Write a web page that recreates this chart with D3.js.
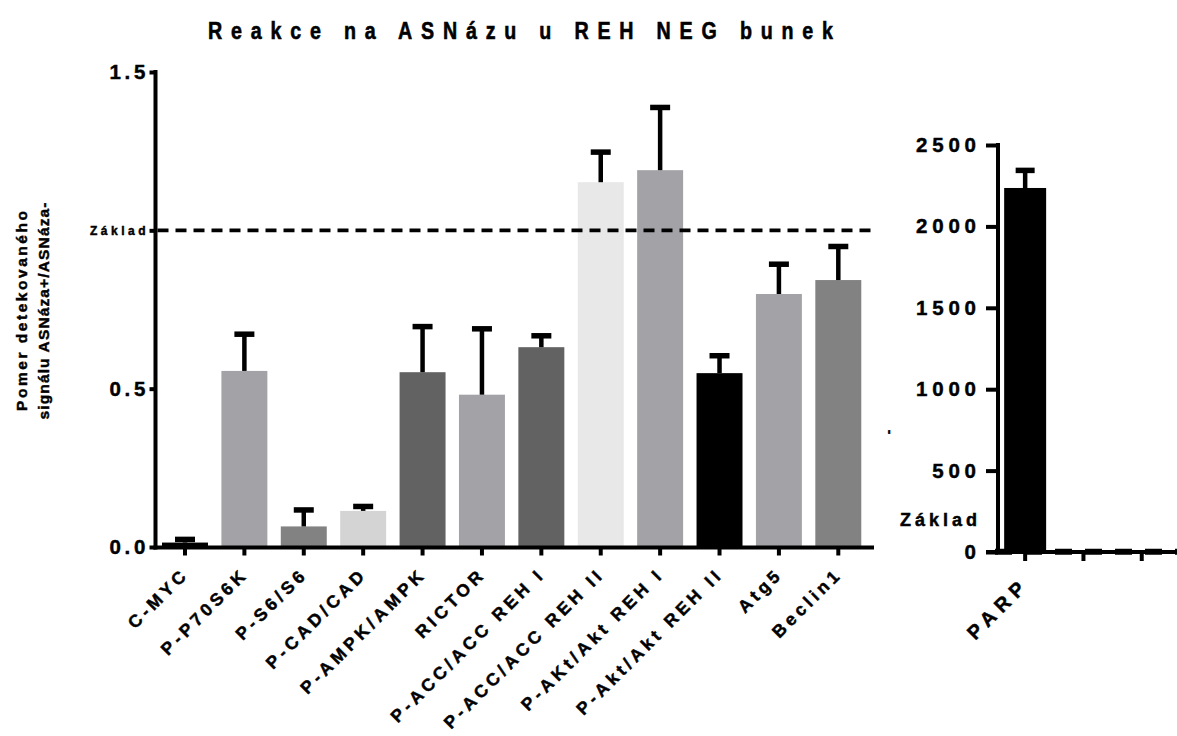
<!DOCTYPE html>
<html>
<head>
<meta charset="utf-8">
<script src="https://cdn.jsdelivr.net/npm/d3@7"></script>
<style>
  body { margin: 0; background: #fff; }
  text { font-family: "Liberation Sans", Arial, sans-serif; font-weight: bold; fill: #000;
         stroke: #000; stroke-width: 0.45px; }
</style>
</head>
<body>
<svg id="chart" width="1177" height="736"></svg>
<script>
// ---- data ----
const categories = ["C-MYC", "P-P70S6K", "P-S6/S6", "P-CAD/CAD", "P-AMPK/AMPK", "RICTOR",
  "P-ACC/ACC REH I", "P-ACC/ACC REH II", "P-AKt/Akt REH I", "P-Akt/Akt REH II", "Atg5", "Beclin1"];
const means  = [0.014, 0.556, 0.065, 0.114, 0.552, 0.481, 0.631, 1.152, 1.190, 0.549, 0.799, 0.843];
const errors = [0.010, 0.116, 0.052, 0.014, 0.144, 0.208, 0.036, 0.095, 0.198, 0.055, 0.094, 0.106];
const barColors = ["#000000", "#a3a2a7", "#828282", "#d4d4d4", "#626262", "#a3a2a7",
  "#626262", "#e8e8e8", "#a3a2a7", "#000000", "#a3a2a7", "#828282"];
const leftTicks = [0, 0.5, 1, 1.5];
const leftTickLabels = ["0.0", "0.5", "Základ", "1.5"];
const baselineValue = 1;

const rightCategories = ["PARP", "", "", ""];
const rightMeans  = [2236];
const rightErrors = [108];
const rightColors = ["#000000"];
const rightTicks = [0, 500, 1000, 1500, 2000, 2500];

const title = "Reakce na ASNázu u REH NEG bunek";
const yTitleLines = ["Pomer detekovaného", "signálu ASNáza+/ASNáza-"];

// ---- layout ----
const svg = d3.select("#chart");
const AX = 4;          // axis stroke width

// left panel scales
const yL = d3.scaleLinear().domain([0, 1.5]).range([547, 72]);
const xL = d3.scaleBand().domain(d3.range(categories.length))
  .range([155.3, 868]).paddingInner(0.226).paddingOuter(0.113);
const leftAxisX = 155.5, leftAxisEnd = 874;

// right panel scales
const yR = d3.scaleLinear().domain([0, 2500]).range([552, 145]);
const xR = d3.scaleBand().domain(d3.range(rightCategories.length))
  .range([996, 996 + 4 * 58.3]).paddingInner(0.28).paddingOuter(0.14);
const rightAxisX = 998;

// ---- title (condensed bold, widely tracked) ----
const TSX = 0.82;
svg.append("text")
  .attr("transform", `translate(208,39) scale(${TSX},1)`)
  .attr("font-size", 24)
  .style("stroke-width", "0.6px")
  .attr("textLength", 625 / TSX).attr("lengthAdjust", "spacing")
  .text(title);

// ---- y axis title (two lines) ----
const yt = svg.append("g").attr("transform", "translate(0,311) rotate(-90)");
yt.append("text").attr("x", 0).attr("y", 27).attr("text-anchor", "middle")
  .attr("font-size", 15.5).attr("textLength", 200).attr("lengthAdjust", "spacing")
  .text(yTitleLines[0]);
yt.append("text").attr("x", 0).attr("y", 48.5).attr("text-anchor", "middle")
  .attr("font-size", 15.5).attr("textLength", 217).attr("lengthAdjust", "spacing")
  .text(yTitleLines[1]);

// ---- left panel ----
const gL = svg.append("g");

gL.selectAll("rect.bar").data(means).join("rect")
  .attr("class", "bar")
  .attr("x", (d, i) => xL(i))
  .attr("width", xL.bandwidth())
  .attr("y", d => yL(d))
  .attr("height", d => yL(0) - yL(d))
  .attr("fill", (d, i) => barColors[i]);

function errorBars(g, vals, errs, x, y, capHalf) {
  const eg = g.append("g").attr("stroke", "#000");
  vals.forEach((v, i) => {
    const cx = x(i) + x.bandwidth() / 2;
    eg.append("line").attr("x1", cx).attr("x2", cx)
      .attr("y1", y(v)).attr("y2", y(v + errs[i])).attr("stroke-width", 4.5);
    eg.append("line").attr("x1", cx - capHalf).attr("x2", cx + capHalf)
      .attr("y1", y(v + errs[i])).attr("y2", y(v + errs[i])).attr("stroke-width", 5.5);
  });
}
errorBars(gL, means, errors, xL, yL, 10);

// baseline (Základ) dashed line
gL.append("line")
  .attr("x1", leftAxisX + 2).attr("x2", leftAxisEnd)
  .attr("y1", yL(baselineValue)).attr("y2", yL(baselineValue))
  .attr("stroke", "#000").attr("stroke-width", 3.8).attr("stroke-dasharray", "11,7");

// y axis
const yAxisL = d3.axisLeft(yL).tickValues(leftTicks)
  .tickFormat((d, i) => leftTickLabels[i]).tickSize(6).tickPadding(4);
const gyL = gL.append("g").attr("transform", `translate(${leftAxisX},0)`).call(yAxisL);
gyL.select(".domain").remove();
gyL.selectAll(".tick line").attr("stroke", "#000").attr("stroke-width", AX);
gyL.selectAll(".tick text")
  .attr("font-family", null)
  .attr("font-size", d => d === baselineValue ? 12 : 20.5)
  .attr("letter-spacing", d => d === baselineValue ? 3.5 : 3.8)
  .attr("dx", d => d === baselineValue ? 3.5 : 3.8);
gL.append("line").attr("x1", leftAxisX).attr("x2", leftAxisX)
  .attr("y1", yL(1.5) - 2).attr("y2", yL(0) + 2.5)
  .attr("stroke", "#000").attr("stroke-width", AX);

// x axis
const xAxisL = d3.axisBottom(xL).tickSize(8).tickFormat("");
const gxL = gL.append("g").attr("transform", `translate(0,${yL(0) + 0.5})`).call(xAxisL);
gxL.select(".domain").remove();
gxL.selectAll(".tick line").attr("stroke", "#000").attr("stroke-width", AX);
gL.append("line").attr("x1", leftAxisX - 2).attr("x2", leftAxisEnd)
  .attr("y1", yL(0) + 0.5).attr("y2", yL(0) + 0.5)
  .attr("stroke", "#000").attr("stroke-width", AX);

const labelLS = 4;
gL.selectAll("text.xlab").data(categories).join("text")
  .attr("class", "xlab")
  .attr("transform", (d, i) => `translate(${xL(i) + xL.bandwidth() / 2 + 2},${yL(0) + 31}) rotate(-45)`)
  .attr("text-anchor", "end")
  .attr("font-size", 17.5)
  .attr("letter-spacing", labelLS)
  .attr("dx", labelLS)
  .text(d => d);

// ---- right panel ----
const gR = svg.append("g");

// baseline (Základ) dashed line, sits on the zero line at this scale
gR.append("line")
  .attr("x1", 995).attr("x2", 1177)
  .attr("y1", yR(baselineValue)).attr("y2", yR(baselineValue))
  .attr("stroke", "#000").attr("stroke-width", 6).attr("stroke-dasharray", "17,13");

gR.selectAll("rect.bar").data(rightMeans).join("rect")
  .attr("class", "bar")
  .attr("x", (d, i) => xR(i))
  .attr("width", xR.bandwidth())
  .attr("y", d => yR(d))
  .attr("height", d => yR(0) - yR(d))
  .attr("fill", (d, i) => rightColors[i]);
errorBars(gR, rightMeans, rightErrors, xR, yR, 9.5);

const yAxisR = d3.axisLeft(yR).tickValues(rightTicks).tickFormat(d3.format("d"))
  .tickSize(12).tickPadding(10);
const gyR = gR.append("g").attr("transform", `translate(${rightAxisX},0)`).call(yAxisR);
gyR.select(".domain").remove();
gyR.selectAll(".tick line").attr("stroke", "#000").attr("stroke-width", AX);
gyR.selectAll(".tick text").attr("font-family", null)
  .attr("font-size", 20.5).attr("letter-spacing", 4.8).attr("dx", 4.8);
gR.append("line").attr("x1", rightAxisX).attr("x2", rightAxisX)
  .attr("y1", yR(2500) - 2).attr("y2", yR(0))
  .attr("stroke", "#000").attr("stroke-width", AX);

const xAxisR = d3.axisBottom(xR).tickSize(9).tickFormat("");
const gxR = gR.append("g").attr("transform", `translate(0,${yR(0)})`).call(xAxisR);
gxR.select(".domain").remove();
gxR.selectAll(".tick line").attr("stroke", "#000").attr("stroke-width", AX);
gR.append("line").attr("x1", rightAxisX - 12).attr("x2", 1177)
  .attr("y1", yR(0)).attr("y2", yR(0))
  .attr("stroke", "#000").attr("stroke-width", AX);

gR.append("text")
  .attr("x", 977 + 4).attr("y", yR(0) - 26)
  .attr("text-anchor", "end").attr("font-size", 18).attr("letter-spacing", 4)
  .text("Základ");

gR.append("text")
  .attr("transform", "translate(893,432) rotate(-90)")
  .attr("text-anchor", "middle").attr("font-size", 14)
  .text("-");

gR.selectAll("text.xlab").data(rightCategories).join("text")
  .attr("class", "xlab")
  .attr("transform", (d, i) => `translate(${xR(i) + xR.bandwidth() / 2 + 1},${yR(0) + 38}) rotate(-45)`)
  .attr("text-anchor", "end")
  .attr("font-size", 20)
  .attr("letter-spacing", 6)
  .attr("dx", 6)
  .text(d => d);
</script>
</body>
</html>
